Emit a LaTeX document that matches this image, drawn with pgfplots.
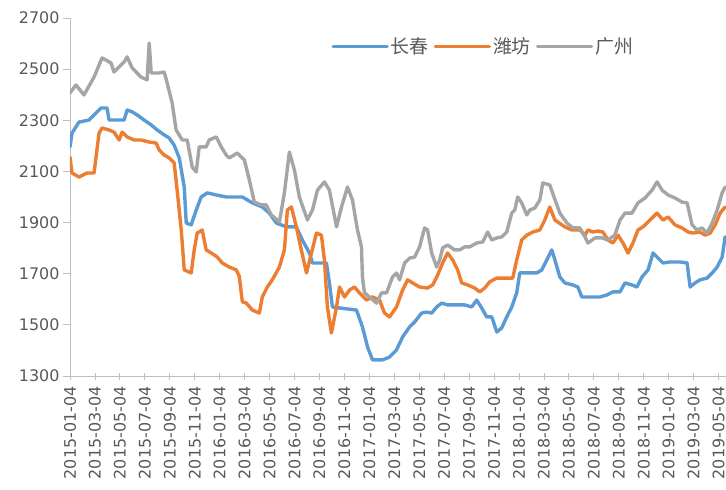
\documentclass[border=0pt]{standalone}
\usepackage{pgfplots}
\pgfplotsset{compat=1.18}
\usepackage{fontspec}
\setmainfont{DejaVu Sans}
\newfontfamily\cjk{Noto Sans CJK SC}
\definecolor{cblue}{HTML}{5B9BD5}
\definecolor{corange}{HTML}{ED7D31}
\definecolor{cgray}{HTML}{A5A5A5}
\definecolor{txt}{HTML}{595959}
\definecolor{axl}{HTML}{BFBFBF}

\begin{document}
\begin{tikzpicture}
\useasboundingbox (-70bp,-114bp) rectangle (656bp,376bp);
\begin{axis}[
    at={(0,0)}, anchor=south west,
    width=656bp, height=358bp, scale only axis,
    xmin=0, xmax=52.6, ymin=1300, ymax=2700,
    ytick={1300,1500,...,2700},
    xtick={0,2,...,52},
    xticklabels={2015-01-04,2015-03-04,2015-05-04,2015-07-04,2015-09-04,2015-11-04,
      2016-01-04,2016-03-04,2016-05-04,2016-07-04,2016-09-04,2016-11-04,
      2017-01-04,2017-03-04,2017-05-04,2017-07-04,2017-09-04,2017-11-04,
      2018-01-04,2018-03-04,2018-05-04,2018-07-04,2018-09-04,2018-11-04,
      2019-01-04,2019-03-04,2019-05-04},
    axis lines*=left,
    axis line style={axl, line width=0.8bp},
    tick align=outside,
    major tick length=7bp,
    every tick/.style={axl, line width=0.8bp},
    xtick style={yshift=3.5bp},
    /pgf/number format/assume math mode=true,
    /pgf/number format/set thousands separator={},
    x tick label style={rotate=90, anchor=east, text=txt, font=\fontsize{16}{16}\selectfont},
    y tick label style={text=txt, font=\fontsize{16}{16}\selectfont},
    legend style={at={(0.63,0.92)}, anchor=center, draw=none, fill=none,
      legend columns=-1, text=txt, font=\cjk\fontsize{19}{19}\selectfont,
      /tikz/every even column/.append style={column sep=3bp}},
    legend image code/.code={\draw[#1, line width=3.4bp] (0bp,0bp) -- (54bp,0bp);},
    every axis plot/.append style={line width=3.4bp, line join=round, line cap=round},
]

% 长春
\addplot[cblue] coordinates {
(0,2196) (0.16,2250) (0.72,2293) (1.53,2301) (2.09,2329) (2.49,2348) (2.97,2348)
(3.13,2301) (3.78,2301) (4.34,2301) (4.58,2340) (4.98,2333) (5.38,2321) (5.94,2301)
(6.51,2282) (6.99,2262) (7.55,2243) (7.95,2231) (8.35,2203) (8.76,2153) (9.16,2039)
(9.32,1898) (9.72,1891) (10.12,1949) (10.52,2000) (11.00,2016) (11.73,2008) (12.53,2000)
(13.82,2000) (14.62,1977) (15.42,1961) (15.98,1937) (16.55,1898) (17.35,1883) (18.15,1883)
(18.63,1832) (19.20,1781) (19.44,1742) (20.56,1742) (20.80,1664) (21.04,1570) (21.61,1566)
(22.97,1558) (23.45,1492) (23.86,1413) (24.26,1363) (25.06,1363) (25.62,1374) (26.18,1402)
(26.67,1453) (27.23,1492) (27.63,1511) (28.19,1546) (28.59,1550) (29.00,1546) (29.40,1570)
(29.80,1585) (30.28,1578) (31.00,1578) (31.65,1578) (32.21,1570) (32.61,1597) (33.01,1566)
(33.41,1531) (33.82,1531) (34.22,1472) (34.62,1488) (35.02,1531) (35.42,1570) (35.82,1625)
(36.06,1703) (36.63,1703) (37.43,1703) (37.83,1715) (38.23,1754) (38.63,1793) (38.88,1754)
(39.28,1687) (39.68,1664) (40.32,1656) (40.72,1648) (41.04,1609) (42.49,1609) (43.05,1617)
(43.53,1629) (44.10,1629) (44.50,1664) (45.06,1656) (45.46,1648) (45.86,1687) (46.35,1715)
(46.75,1781) (47.15,1761) (47.55,1742) (48.11,1746) (48.92,1746) (49.48,1742) (49.72,1648)
(50.12,1664) (50.52,1676) (51.08,1683) (51.49,1703) (51.89,1726) (52.29,1765) (52.53,1844)
};
\addlegendentry{长春}

% 潍坊
\addplot[corange] coordinates {
(0,2156) (0.16,2094) (0.72,2078) (1.37,2094) (1.93,2094) (2.33,2250) (2.57,2270)
(3.13,2262) (3.53,2254) (3.94,2223) (4.18,2254) (4.58,2235) (5.14,2223) (5.70,2223)
(6.35,2215) (6.91,2211) (7.15,2184) (7.55,2164) (7.95,2153) (8.35,2133) (8.59,2027)
(8.92,1871) (9.16,1715) (9.72,1703) (9.96,1793) (10.20,1859) (10.60,1871) (10.92,1793)
(11.33,1781) (11.81,1765) (12.21,1742) (12.77,1726) (13.33,1715) (13.57,1690) (13.82,1590)
(14.14,1585) (14.62,1558) (15.18,1546) (15.42,1609) (15.82,1648) (16.22,1676) (16.79,1726)
(17.19,1793) (17.43,1949) (17.75,1961) (18.15,1883) (18.55,1793) (18.96,1703) (19.36,1781)
(19.76,1859) (20.16,1851) (20.40,1754) (20.64,1570) (20.96,1468) (21.37,1570) (21.61,1648)
(22.01,1609) (22.41,1636) (22.81,1648) (23.21,1625) (23.78,1597) (24.26,1609) (24.82,1597)
(25.22,1546) (25.62,1531) (26.18,1570) (26.67,1636) (27.07,1676) (27.47,1664) (28.03,1648)
(28.67,1644) (29.08,1656) (29.48,1695) (29.88,1742) (30.28,1781) (30.68,1754) (31.08,1715)
(31.41,1664) (31.89,1656) (32.45,1644) (32.85,1629) (33.25,1644) (33.65,1668) (34.22,1683)
(34.86,1683) (35.50,1683) (35.82,1754) (36.22,1832) (36.63,1851) (37.11,1863) (37.67,1871)
(38.07,1910) (38.47,1961) (38.88,1910) (39.68,1883) (40.24,1871) (40.88,1871) (41.29,1851)
(41.53,1871) (41.93,1863) (42.33,1867) (42.73,1863) (43.13,1832) (43.53,1820) (43.94,1851)
(44.34,1820) (44.74,1781) (45.14,1820) (45.54,1871) (45.94,1883) (46.51,1910) (47.07,1937)
(47.55,1910) (47.95,1922) (48.51,1891) (49.08,1879) (49.56,1863) (49.96,1859) (50.52,1863)
(50.92,1851) (51.33,1859) (51.73,1891) (52.13,1937) (52.53,1961)
};
\addlegendentry{潍坊}

% 广州
\addplot[cgray] coordinates {
(0,2407) (0.48,2438) (1.12,2399) (1.93,2469) (2.57,2544) (3.29,2524) (3.53,2489)
(4.34,2528) (4.58,2548) (4.98,2505) (5.70,2469) (6.18,2458) (6.35,2602) (6.51,2485)
(7.15,2485) (7.55,2489) (7.79,2446) (8.19,2368) (8.51,2262) (9.00,2223) (9.40,2223)
(9.80,2117) (10.12,2098) (10.36,2196) (10.92,2196) (11.16,2223) (11.73,2235) (12.13,2196)
(12.53,2164) (12.77,2153) (13.41,2172) (13.98,2145) (14.38,2067) (14.78,1980) (15.34,1969)
(15.74,1969) (16.14,1930) (16.79,1902) (17.19,2016) (17.59,2176) (17.99,2106) (18.39,2000)
(19.04,1910) (19.44,1949) (19.84,2027) (20.40,2059) (20.80,2027) (21.37,1883) (21.77,1961)
(22.25,2039) (22.65,1988) (23.05,1871) (23.37,1805) (23.45,1687) (23.61,1625) (24.02,1609)
(24.58,1585) (24.98,1625) (25.38,1625) (25.86,1687) (26.18,1703) (26.43,1676) (26.83,1742)
(27.23,1761) (27.63,1765) (28.03,1805) (28.43,1879) (28.67,1871) (29.00,1781) (29.40,1726)
(29.64,1754) (29.88,1801) (30.28,1812) (30.84,1793) (31.24,1793) (31.65,1805) (32.05,1805)
(32.61,1820) (33.09,1824) (33.49,1863) (33.82,1832) (34.22,1840) (34.62,1844) (35.02,1863)
(35.42,1937) (35.66,1949) (35.90,2000) (36.22,1977) (36.63,1930) (36.87,1949) (37.27,1957)
(37.67,1988) (37.91,2055) (38.47,2047) (38.88,1990) (39.28,1937) (39.84,1898) (40.32,1879)
(40.88,1879) (41.29,1844) (41.53,1820) (42.09,1840) (42.65,1840) (43.13,1832) (43.69,1851)
(44.10,1910) (44.50,1937) (45.06,1937) (45.54,1977) (46.10,1996) (46.67,2027) (47.07,2059)
(47.47,2027) (47.95,2008) (48.51,1996) (49.08,1980) (49.48,1977) (49.88,1891) (50.28,1871)
(50.68,1879) (51.08,1859) (51.49,1898) (51.89,1949) (52.29,2016) (52.53,2039)
};
\addlegendentry{广州}

\end{axis}
\end{tikzpicture}
\end{document}
